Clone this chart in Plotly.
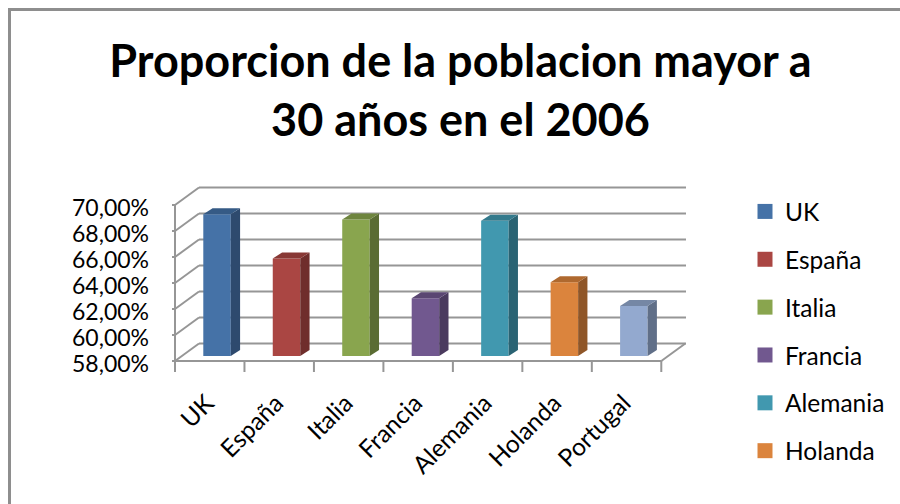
import plotly.graph_objects as go

categories = ["UK", "España", "Italia", "Francia", "Alemania", "Holanda", "Portugal"]
values = [68.9, 65.5, 68.5, 62.44, 68.4, 63.67, 61.85]
front = ["#4572A7", "#AA4643", "#89A54E", "#71588F", "#4198AF", "#DB843D", "#93A9CF"]
side = ["#2E4A6E", "#6F2E2C", "#5A6C33", "#4A3A5E", "#2A6373", "#8F5628", "#606F88"]
top = ["#355A85", "#883835", "#6E853E", "#5A4672", "#347A8C", "#AF692F", "#7587A5"]
y_ticks = [58, 60, 62, 64, 66, 68, 70]
y_labels = ["58,00%", "60,00%", "62,00%", "64,00%", "66,00%", "68,00%", "70,00%"]
title_text = "Proporcion de la poblacion mayor a<br>30 años en el 2006"

FONT = "Lato"
GRID = "#969696"
# pixel scales of the axes
PX_X, PX_Y = 69.47, 13.0
PAD = 3
X0, X1, Y0, Y1 = 175 - PAD, 688, 185, 361 + PAD + 8
wall_dx, wall_dy = 24.0 / PX_X, 17.5 / PX_Y
bar_dx, bar_dy = 7.3 / PX_X, 5.0 / PX_Y
bar_w = 27.5 / PX_X
side_dx, side_dy = 9.3 / PX_X, 6.0 / PX_Y
n = len(categories)
x_min = -PAD / PX_X
x_max = x_min + (X1 - X0) / PX_X
y_min = 58 - (PAD + 8) / PX_Y
y_max = y_min + (Y1 - Y0) / PX_Y
x_end = (686 - 175) / PX_X

fig = go.Figure()
grid_shapes = []


def line(xs, ys):
    for a, b, c, d in zip(xs[:-1], ys[:-1], xs[1:], ys[1:]):
        grid_shapes.append(dict(type="line", xref="x", yref="y", x0=a, y0=b, x1=c, y1=d,
                                layer="below", line=dict(color=GRID, width=2)))


for v in y_ticks:
    line([x_min, 0, wall_dx, x_end], [v, v, v + wall_dy, v + wall_dy])
line([0, 0], [58, 70])
line([0, n, n + wall_dx], [58, 58, 58 + wall_dy])
for k in range(n + 1):
    line([k, k], [58, y_min])

for i, (c, v) in enumerate(zip(categories, values)):
    xl = i + 0.5 + bar_dx - bar_w / 2
    xr = xl + bar_w
    base = 58 + bar_dy
    t = v + bar_dy
    fig.add_trace(go.Scatter(x=[xr, xr + side_dx, xr + side_dx, xr, xr],
                             y=[base, base + side_dy, t + side_dy, t, base],
                             mode="lines", fill="toself", fillcolor=side[i],
                             line=dict(width=0), showlegend=False, hoverinfo="skip"))
    fig.add_trace(go.Scatter(x=[xl, xl + side_dx, xr + side_dx, xr, xl],
                             y=[t, t + side_dy, t + side_dy, t, t],
                             mode="lines", fill="toself", fillcolor=top[i],
                             line=dict(width=0), showlegend=False, hoverinfo="skip"))
    fig.add_trace(go.Bar(x=[i + 0.5 + bar_dx], y=[v - 58], base=[base], width=[bar_w],
                         name=c, marker=dict(color=front[i], line=dict(width=0)),
                         legendgroup=c, showlegend=False))
    if c != "Portugal":
        fig.add_trace(go.Scatter(x=[None], y=[None], mode="markers", name=c, legendgroup=c,
                                 marker=dict(symbol="square", size=15, color=front[i]),
                                 showlegend=True, hoverinfo="skip"))

fig.update_layout(
    width=900, height=504, autosize=False,
    margin=dict(l=0, r=0, t=0, b=0, autoexpand=False),
    paper_bgcolor="white", plot_bgcolor="white",
    barmode="overlay",
    font=dict(family=FONT, color="#000000", size=23),
    title=dict(text=title_text, x=460.5 / 900, xanchor="center", y=1 - 77 / 504, yanchor="top",
               font=dict(family=FONT, size=45, color="#000000", weight="bold")),
    xaxis=dict(domain=[X0 / 900, X1 / 900], range=[x_min, x_max], showgrid=False, zeroline=False,
               showline=False, tickmode="array",
               tickvals=[i + 0.5 for i in range(n)], ticktext=categories, ticks="",
               tickangle=-45, tickfont=dict(family=FONT, size=24.5), ticklabelstandoff=11,
               ticklabelshift=-3),
    yaxis=dict(domain=[1 - Y1 / 504, 1 - Y0 / 504], range=[y_min, y_max], showgrid=False,
               zeroline=False, showline=False, tickmode="array", tickvals=y_ticks,
               ticktext=y_labels, ticks="", ticklabelstandoff=22, ticklabelshift=3,
               tickfont=dict(family=FONT, size=23)),
    legend=dict(x=745 / 900, xanchor="left", y=1 - 189 / 504, yanchor="top",
                font=dict(family=FONT, size=24.5), tracegroupgap=13,
                traceorder="grouped", bgcolor="rgba(0,0,0,0)"),
    shapes=[dict(type="rect", xref="paper", yref="paper", x0=9.5 / 900, x1=1.2,
                 y0=-0.2, y1=1 - 9.5 / 504, line=dict(color="#8E8E8E", width=3),
                 fillcolor="rgba(0,0,0,0)", layer="below")] + grid_shapes,
)
fig.write_html("out.html", post_script="document.body.style.margin='0';",
               config={"displayModeBar": False})
